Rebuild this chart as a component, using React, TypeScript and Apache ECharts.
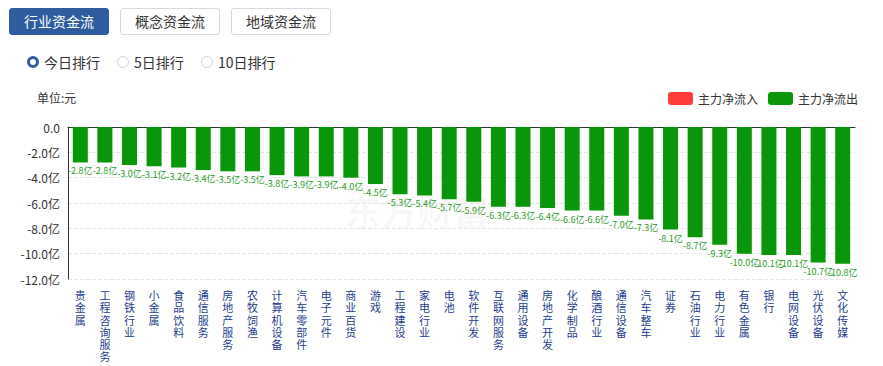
import React, { useEffect, useRef } from "react";
import * as echarts from "echarts";

const categories = [
  "贵金属", "工程咨询服务", "钢铁行业", "小金属", "食品饮料", "通信服务", "房地产服务", "农牧饲渔",
  "计算机设备", "汽车零部件", "电子元件", "商业百货", "游戏", "工程建设", "家电行业", "电池",
  "软件开发", "互联网服务", "通用设备", "房地产开发", "化学制品", "酿酒行业", "通信设备", "汽车整车",
  "证券", "石油行业", "电力行业", "有色金属", "银行", "电网设备", "光伏设备", "文化传媒",
];
const outflow = [
  -2.8, -2.8, -3.0, -3.1, -3.2, -3.4, -3.5, -3.5,
  -3.8, -3.9, -3.9, -4.0, -4.5, -5.3, -5.4, -5.7,
  -5.9, -6.3, -6.3, -6.4, -6.6, -6.6, -7.0, -7.3,
  -8.1, -8.7, -9.3, -10.0, -10.1, -10.1, -10.7, -10.8,
];
const inflow: (number | null)[] = categories.map(() => null);
const legendNames = ["主力净流入", "主力净流出"];
const tabs = ["行业资金流", "概念资金流", "地域资金流"];
const radios = ["今日排行", "5日排行", "10日排行"];

const FONT = '"Noto Sans CJK SC", "Noto Sans", sans-serif';
const GREEN = "#0a960a";
const RED = "#ff3c3c";

export default function App() {
  const ref = useRef<HTMLDivElement>(null);
  useEffect(() => {
    if (!ref.current) return;
    const chart = echarts.init(ref.current, null, { renderer: "svg" });
    chart.setOption({
      animation: false,
      textStyle: { fontFamily: FONT },
      legend: {
        right: 20,
        top: 87,
        itemWidth: 25,
        itemHeight: 13,
        itemGap: 10,
        textStyle: { fontSize: 12, color: "#333", fontFamily: FONT },
        data: legendNames,
      },
      graphic: [
        {
          type: "text",
          left: 37,
          top: 91,
          style: { text: "单位:元", fontSize: 12, fill: "#333", fontFamily: FONT },
        },
        {
          type: "text",
          left: 345,
          top: 192,
          z: 0,
          style: {
            text: "东方财富",
            fontSize: 36,
            fontWeight: "bold",
            fill: "rgba(0,0,0,0.035)",
            fontFamily: FONT,
          },
        },
      ],
      grid: { left: 68, right: 28, top: 127, bottom: 87 },
      xAxis: [
        {
          type: "category",
          data: categories,
          position: "bottom",
          axisLine: { show: false, onZero: false },
          axisTick: { show: false },
          axisLabel: {
            interval: 0,
            margin: 10,
            fontSize: 11,
            lineHeight: 12.2,
            color: "#1f3d8f",
            fontFamily: FONT,
            verticalAlign: "top",
            formatter: (v: string) => v.split("").join("\n"),
          },
        },
        {
          type: "category",
          data: categories,
          position: "top",
          axisLine: { show: true, onZero: false, lineStyle: { color: "#333", width: 1 } },
          axisTick: { show: false },
          axisLabel: { show: false },
        },
      ],
      yAxis: {
        type: "value",
        min: -12,
        max: 0,
        interval: 2,
        axisLine: { show: true, lineStyle: { color: "#333" } },
        axisTick: { show: false },
        splitLine: { show: true, lineStyle: { type: "dashed", color: "#e6e6e6" } },
        axisLabel: {
          fontSize: 12,
          color: "#333",
          margin: 8,
          fontFamily: FONT,
          formatter: (v: number) => (v === 0 ? "0.0" : v.toFixed(1) + "亿"),
        },
      },
      series: [
        {
          name: legendNames[0],
          type: "bar",
          stack: "a",
          barWidth: 15,
          data: inflow,
          itemStyle: { color: RED },
        },
        {
          name: legendNames[1],
          type: "bar",
          stack: "a",
          barWidth: 15,
          data: outflow,
          itemStyle: { color: GREEN },
          label: {
            show: true,
            position: "bottom",
            distance: 4,
            fontSize: 9,
            color: "#2a9a2a",
            fontFamily: FONT,
            formatter: (p: any) => p.value.toFixed(1) + "亿",
          },
        },
      ],
    });
    return () => chart.dispose();
  }, []);

  return (
    <div style={{ position: "absolute", left: 0, top: 0, width: 883, height: 366, background: "#fff", fontFamily: FONT }}>
      {tabs.map((t, i) => (
        <div
          key={t}
          style={{
            position: "absolute",
            left: 9 + i * 111,
            top: 8,
            width: 100,
            height: 27,
            boxSizing: "border-box",
            border: i === 0 ? "1px solid #2e5c9e" : "1px solid #d6dbe3",
            borderRadius: 3,
            background: i === 0 ? "#2e5c9e" : "#fff",
            color: i === 0 ? "#fff" : "#333",
            fontSize: 14,
            lineHeight: "25px",
            textAlign: "center",
          }}
        >
          {t}
        </div>
      ))}
      {radios.map((r, i) => {
        const lefts = [27, 117, 201];
        return (
          <div
            key={r}
            style={{ position: "absolute", left: lefts[i], top: 53, height: 18, display: "flex", alignItems: "center", fontSize: 14, color: "#333" }}
          >
            <span
              style={{
                display: "inline-block",
                width: 12,
                height: 12,
                boxSizing: "border-box",
                borderRadius: "50%",
                border: i === 0 ? "3px solid #2e5c9e" : "1px solid #cfd6e0",
                background: "#fff",
                marginRight: 5,
              }}
            />
            {r}
          </div>
        );
      })}
      <div ref={ref} style={{ position: "absolute", left: 0, top: 0, width: 883, height: 366 }} />
    </div>
  );
}
